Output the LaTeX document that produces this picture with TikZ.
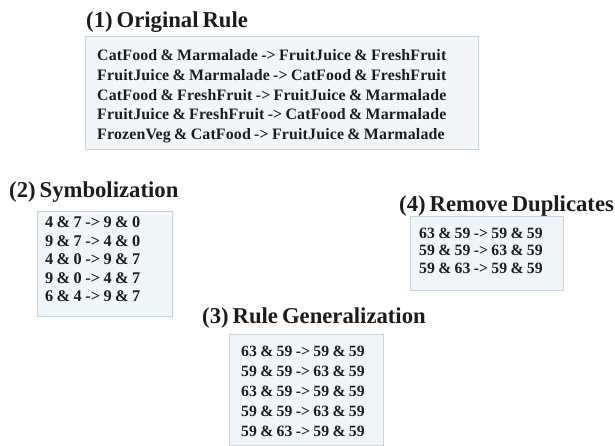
\documentclass[tikz,border=0pt]{standalone}
\usepackage{fontspec}
\setmainfont{Liberation Serif}
\newfontfamily\headfont[WordSpace=0.7]{Liberation Serif}
\newfontfamily\rulesfont[WordSpace=0.8,LetterSpace=1]{Liberation Serif}
\usetikzlibrary{calc}
\definecolor{ink}{HTML}{1C1C1C}
\definecolor{panel}{HTML}{F0F6F8}
\definecolor{panelgrey}{HTML}{F3F6F8}
\definecolor{edge}{HTML}{C3D5DE}
\begin{document}
\begin{tikzpicture}[x=1pt,y=-1pt,
  title/.style={anchor=base west, inner sep=0pt, text=ink,
    font=\headfont\fontsize{22.7}{26}\selectfont\bfseries},
  panelbox/.style={draw=edge, fill=panel, line width=0.8pt, anchor=north west,
    inner sep=0pt},
  rules/.style={anchor=north west, align=left, inner sep=0pt, text=ink},
  rulefont/.style 2 args={font=\rulesfont\fontsize{#1}{#2}\selectfont\bfseries}]
\useasboundingbox (0,0) rectangle (615,445);

% step 1: the rules as mined
\node[title] (t1) at (86,27) {(1) Original Rule};
\node[panelbox, fill=panelgrey, minimum width=393pt, minimum height=113pt] (b1) at (85,36) {};
\node[rules, rulefont={15.9}{19.6}] (r1) at ($(b1.north west)+(12,13.7)$)
  {CatFood \& Marmalade -> FruitJuice \& FreshFruit\\
   FruitJuice \& Marmalade -> CatFood \& FreshFruit\\
   CatFood \& FreshFruit -> FruitJuice \& Marmalade\\
   FruitJuice \& FreshFruit -> CatFood \& Marmalade\\
   FrozenVeg \& CatFood -> FruitJuice \& Marmalade};

% step 2: items replaced by symbols
\node[title] (t2) at (9,197) {(2) Symbolization};
\node[panelbox, minimum width=135pt, minimum height=105pt] (b2) at (37,211) {};
\node[rules, rulefont={16.3}{18.6}] (r2) at ($(b2.north west)+(8,5.4)$)
  {4 \& 7 -> 9 \& 0\\
   9 \& 7 -> 4 \& 0\\
   4 \& 0 -> 9 \& 7\\
   9 \& 0 -> 4 \& 7\\
   6 \& 4 -> 9 \& 7};

% step 3: symbols generalised
\node[title] (t3) at (202,323) {(3) Rule Generalization};
\node[panelbox, minimum width=154pt, minimum height=111pt] (b3) at (229,334) {};
\node[rules, rulefont={15.7}{20}] (r3) at ($(b3.north west)+(12,11.5)$)
  {63 \& 59 -> 59 \& 59\\
   59 \& 59 -> 63 \& 59\\
   63 \& 59 -> 59 \& 59\\
   59 \& 59 -> 63 \& 59\\
   59 \& 63 -> 59 \& 59};

% step 4: unique rules only
\node[title] (t4) at (399,211) {(4) Remove Duplicates};
\node[panelbox, minimum width=153pt, minimum height=74pt] (b4) at (410,216) {};
\node[rules, rulefont={15.7}{17.5}] (r4) at ($(b4.north west)+(9,11.5)$)
  {63 \& 59 -> 59 \& 59\\
   59 \& 59 -> 63 \& 59\\
   59 \& 63 -> 59 \& 59};
\end{tikzpicture}
\end{document}
